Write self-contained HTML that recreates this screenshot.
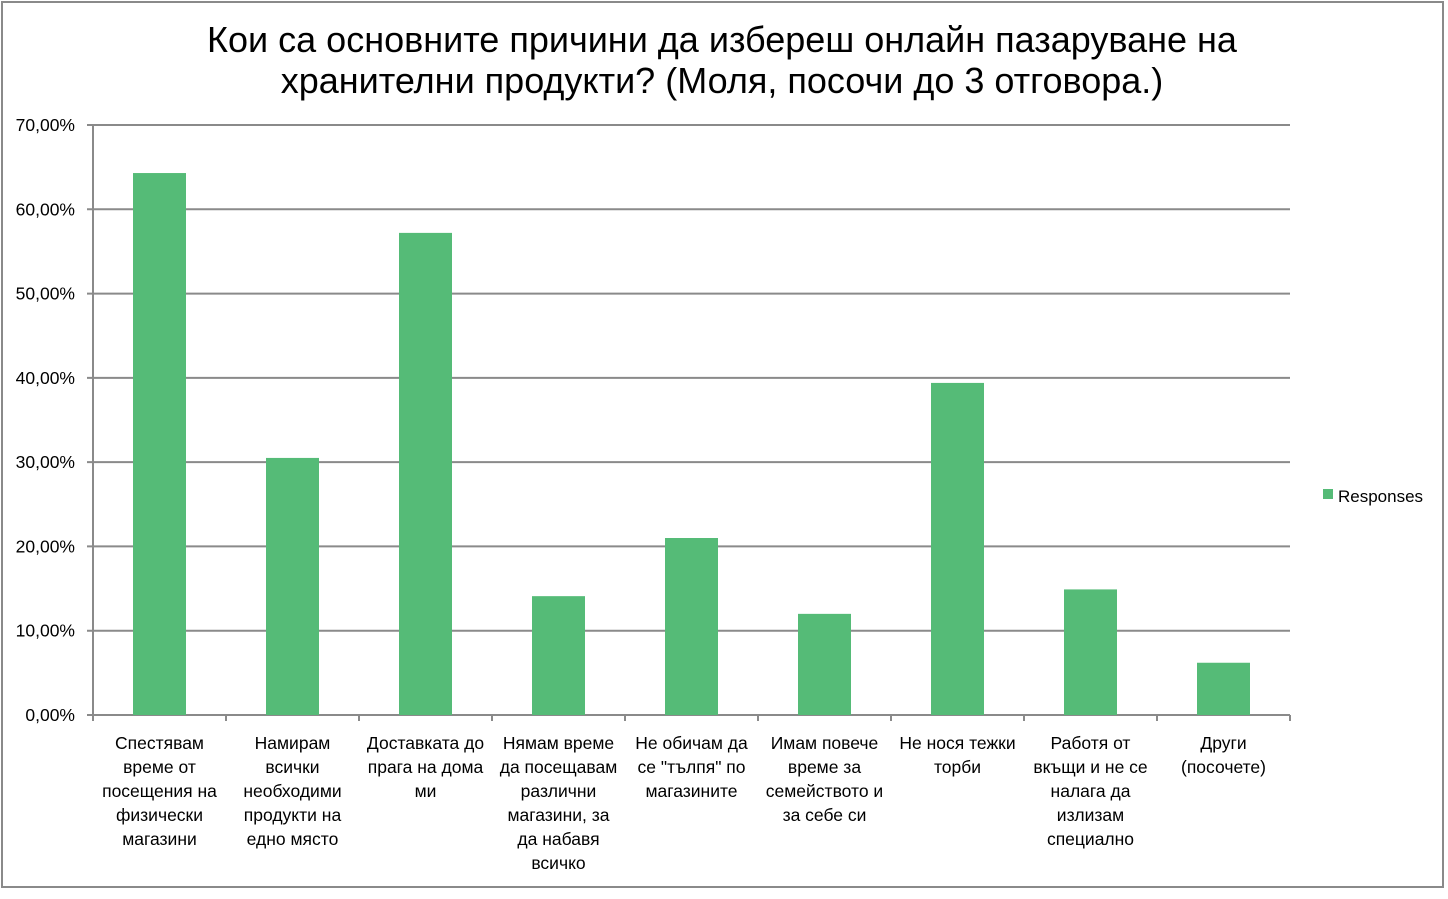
<!DOCTYPE html>
<html><head><meta charset="utf-8"><style>
body{margin:0;background:#fff;width:1448px;height:894px;overflow:hidden;font-family:"Liberation Sans","Noto Sans CJK SC",sans-serif}
svg text{font-family:"Liberation Sans","Noto Sans CJK SC",sans-serif}
</style></head><body>
<svg id="c" width="1448" height="894">
<rect x="2" y="2" width="1441" height="885" fill="#fff" stroke="#8a8a8a" stroke-width="2"/>
<text x="722" y="52" font-size="36" text-anchor="middle" fill="#000">Кои са основните причини да избереш онлайн пазаруване на</text>
<text x="722" y="93" font-size="36" text-anchor="middle" fill="#000">хранителни продукти? (Моля, посочи до 3 отговора.)</text>
<g id="grid"></g><g id="bars"></g><g id="axes"></g>
<rect x="1323" y="489" width="10" height="10" fill="#55bb77"/>
<text x="1338" y="502" font-size="17" fill="#000">Responses</text>
</svg>
<script>
const categories=[["Спестявам","време от","посещения на","физически","магазини"],["Намирам","всички","необходими","продукти на","едно място"],["Доставката до","прага на дома","ми"],["Нямам време","да посещавам","различни","магазини, за","да набавя","всичко"],["Не обичам да","се \"тълпя\" по","магазините"],["Имам повече","време за","семейството и","за себе си"],["Не нося тежки","торби"],["Работя от","вкъщи и не се","налага да","излизам","специално"],["Други","(посочете)"]];
const values=[64.3,30.5,57.2,14.1,21.0,12.0,39.4,14.9,6.2];
const ticks=[0,10,20,30,40,50,60,70];
const tickLabels=["0,00%","10,00%","20,00%","30,00%","40,00%","50,00%","60,00%","70,00%"];
const NS="http://www.w3.org/2000/svg";
const L=93,R=1290,T=125,B=715,maxV=70;
const y=v=>B-(v/maxV)*(B-T);
const bw=(R-L)/categories.length;
const x=i=>L+i*bw;
function mk(t,a,p){const e=document.createElementNS(NS,t);for(const k in a)e.setAttribute(k,a[k]);p.appendChild(e);return e;}
const g=document.getElementById('grid'),bg=document.getElementById('bars'),ax=document.getElementById('axes');
ticks.forEach((t,i)=>{
 const ln=mk('line',{x1:87,x2:R,y1:y(t),y2:y(t),stroke:'#8a8a8a','stroke-width':2},g);
 
 
 const tx=mk('text',{x:75,y:y(t)+6,'font-size':17.5,'text-anchor':'end',fill:'#000'},g);
 tx.textContent=tickLabels[i];
 
 
});
values.forEach((v,i)=>{
 const r=mk('rect',{x:x(i)+bw/2-26.5,y:y(v),width:53,height:B-y(v),fill:'#55bb77'},bg);
 
 
 categories[i].forEach((line,j)=>{
  const tx=mk('text',{x:x(i)+bw/2,y:749+j*24,'font-size':17.5,'text-anchor':'middle',fill:'#000'},ax);
  tx.textContent=line;
  
  
 });
});
const ya=mk('line',{x1:L,x2:L,y1:T,y2:B,stroke:'#8a8a8a','stroke-width':2},ax);


for(let i=0;i<=categories.length;i++){
 const tk=mk('line',{x1:x(i),x2:x(i),y1:B,y2:B+6,stroke:'#8a8a8a','stroke-width':2},ax);
 
 
}
</script>
</body></html>
